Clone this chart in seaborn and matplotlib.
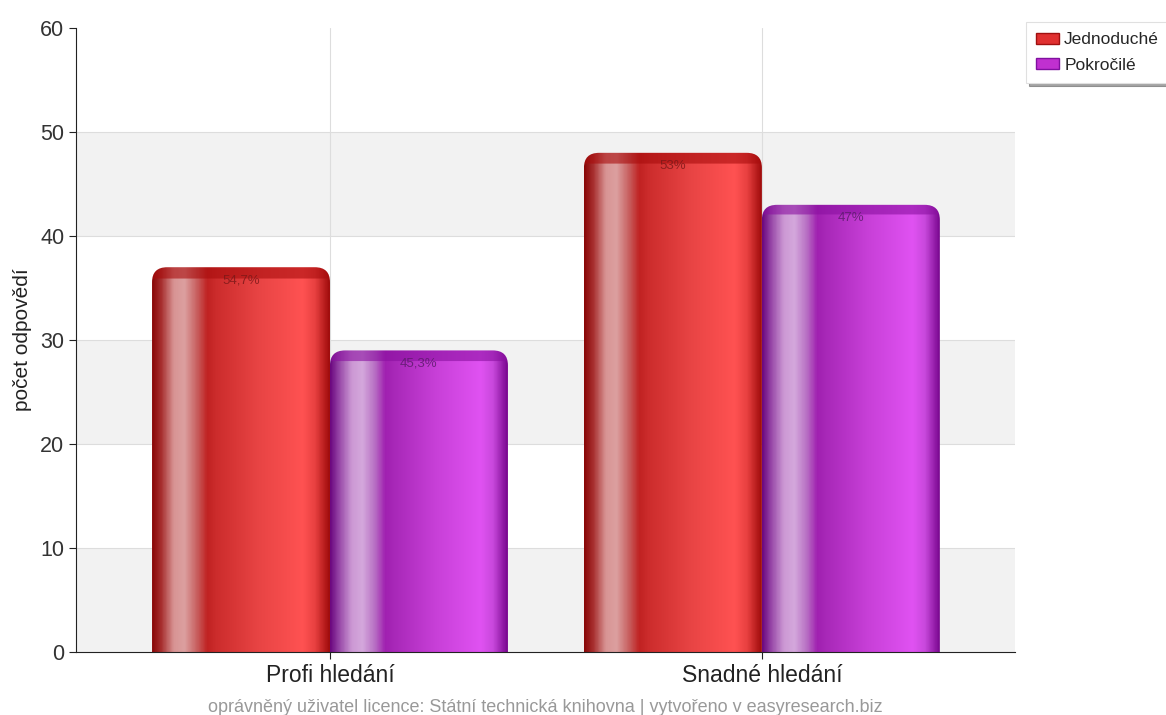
import pandas as pd
import numpy as np
import matplotlib
matplotlib.use('Agg')
import matplotlib.pyplot as plt
import seaborn as sb
from matplotlib.patches import FancyBboxPatch, Patch
from matplotlib.colors import LinearSegmentedColormap, to_rgb

# data
categories = ['Profi hledání', 'Snadné hledání']
series = ['Jednoduché', 'Pokročilé']
jednoduche = [37, 48]
pokrocile = [29, 43]
labels_j = ['54,7%', '53%']
labels_p = ['45,3%', '47%']

df = pd.DataFrame({
    'kategorie': categories * 2,
    'typ': [series[0]] * 2 + [series[1]] * 2,
    'pocet': jednoduche + pokrocile,
})

sb.set_style('white')
plt.rcParams['font.family'] = ['Liberation Sans', 'DejaVu Sans']

fig = plt.figure(figsize=(11.66, 7.15), dpi=100)
ax = fig.add_axes([0.0652, 0.0881, 0.8053, 0.8727])

pal = {'Jednoduché': '#e03030', 'Pokročilé': '#c030d0'}
sb.barplot(data=df, x='kategorie', y='pocet', hue='typ', palette=pal,
           width=0.824, ax=ax, legend=False, saturation=1)

# alternating background bands + grid
for y0 in [0, 20, 40]:
    ax.axhspan(y0, y0 + 10, color='#f2f2f2', zorder=0, lw=0)
for y in range(10, 60, 10):
    ax.axhline(y, color='#dddddd', lw=0.8, zorder=0.5)
for x in [0, 1]:
    ax.axvline(x, color='#dddddd', lw=0.8, zorder=0.5)

# gradient fills for the bars (glossy look)
grads = {
    'Jednoduché': ['#8a0808', '#a83030', '#d89494', '#dca0a0', '#c86060',
                   '#c02222', '#cc2c2c', '#e84444', '#ff5252', '#e84040',
                   '#a00c0c'],
    'Pokročilé': ['#6c0880', '#9848a8', '#cc98d4', '#d4a8dc', '#b870c4',
                  '#a020b0', '#a828b8', '#c840d8', '#e052f2', '#c848dc',
                  '#7a0890'],
}
stops = [0, 0.05, 0.12, 0.18, 0.25, 0.31, 0.36, 0.6, 0.85, 0.92, 1.0]
caps = {'Jednoduché': '#a80c0c', 'Pokročilé': '#8a10a0'}
label_col = {'Jednoduché': '#7a1818', 'Pokročilé': '#5a1a6a'}

patches = [p for p in ax.patches if p.get_height() > 0]
names = [series[0]] * 2 + [series[1]] * 2
texts = labels_j + labels_p
for p, name, txt in zip(patches, names, texts):
    x0, w, h = p.get_x(), p.get_width(), p.get_height()
    p.set_visible(False)
    box = FancyBboxPatch((x0, -3), w, h + 3,
                         boxstyle='round,pad=0,rounding_size=0.035',
                         mutation_aspect=41, facecolor='none', edgecolor='none',
                         transform=ax.transData)
    ax.add_patch(box)
    cmap = LinearSegmentedColormap.from_list(
        name, list(zip(stops, grads[name])))
    nx, ny = 300, 300
    row = cmap(np.linspace(0, 1, nx))[:, :3]
    img = np.tile(row, (ny, 1, 1))
    yy = np.linspace(h, 0, ny)
    cap = np.array(to_rgb(caps[name]))
    capmask = (yy > h - 1.0)[:, None, None]
    img = np.where(capmask, img * 0.4 + cap * 0.6, img)
    im = ax.imshow(img, extent=[x0, x0 + w, 0, h], aspect='auto',
                   zorder=2, interpolation='bilinear')
    im.set_clip_path(box)
    ax.text(x0 + w / 2, h - 1.3, txt, ha='center', va='center',
            fontsize=9.5, color=label_col[name], alpha=0.8, zorder=3)

ax.set_xlim(-0.588, 1.586)
ax.set_ylim(0, 60)

for s in ['top', 'right']:
    ax.spines[s].set_visible(False)
for s in ['left', 'bottom']:
    ax.spines[s].set_color('#222222')
    ax.spines[s].set_zorder(4)
ax.tick_params(axis='both', direction='out', length=5, width=0.8,
               colors='#222222', left=True, bottom=True)
ax.tick_params(axis='y', labelsize=15.5, labelcolor='#333333')
ax.tick_params(axis='x', labelsize=16.5, labelcolor='#222222')
ax.set_yticks(range(0, 61, 10))
ax.set_xlabel('')
ax.set_ylabel('počet odpovědí', fontsize=15, color='#222222', labelpad=6)

handles = [Patch(facecolor='#e03030', edgecolor='#a01010'),
           Patch(facecolor='#c030d0', edgecolor='#8010a0')]
leg = fig.legend(handles, series, loc='upper left',
                 bbox_to_anchor=(1026 / 1166, 1 - 22 / 715), fontsize=12.5,
                 frameon=True, fancybox=False, shadow=True, borderaxespad=0,
                 handlelength=1.3, handleheight=0.6, handletextpad=0.3,
                 labelspacing=0.6, borderpad=0.6)
leg.get_frame().set_edgecolor('#e0e0e0')
leg.get_frame().set_linewidth(0.8)

fig.text(545 / 1166, 1 - 707 / 715,
         'oprávněný uživatel licence: Státní technická knihovna | vytvořeno v easyresearch.biz',
         ha='center', va='center', fontsize=13, color='#999999')

fig.savefig('out.png', dpi=100)
